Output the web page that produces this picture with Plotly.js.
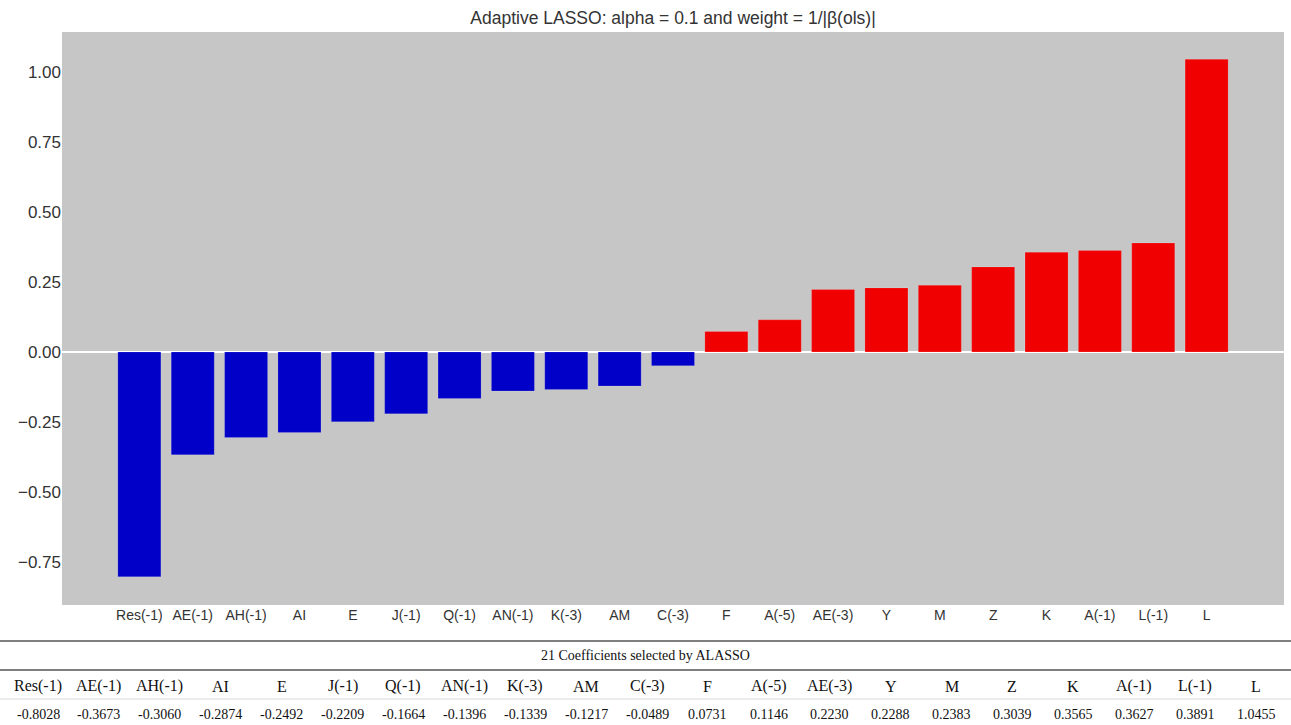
<!DOCTYPE html>
<html>
<head>
<meta charset="utf-8">
<script src="https://cdn.plot.ly/plotly-3.0.1.min.js"></script>
<style>
html,body{margin:0;padding:0;background:#fff;}
#chart{width:1291px;height:725px;}
</style>
</head>
<body>
<div id="chart"></div>
<script>
// ---- data ----
const categories = ["Res(-1)","AE(-1)","AH(-1)","AI","E","J(-1)","Q(-1)","AN(-1)","K(-3)","AM","C(-3)","F","A(-5)","AE(-3)","Y","M","Z","K","A(-1)","L(-1)","L"];
const coefficients = [-0.8028,-0.3673,-0.3060,-0.2874,-0.2492,-0.2209,-0.1664,-0.1396,-0.1339,-0.1217,-0.0489,0.0731,0.1146,0.2230,0.2288,0.2383,0.3039,0.3565,0.3627,0.3891,1.0455];
const yTickVals = [-0.75,-0.5,-0.25,0,0.25,0.5,0.75,1.0];
const yTickText = ["−0.75","−0.50","−0.25","0.00","0.25","0.50","0.75","1.00"];
const chartTitle = "Adaptive LASSO: alpha = 0.1 and weight = 1/|β(ols)|";
const tableHeader = "21 Coefficients selected by ALASSO";

// ---- layout geometry ----
const W = 1291, H = 725;
const M = {l: 62, r: 7, t: 32, b: 120};
const plotH = H - M.t - M.b;
const plotW = W - M.l - M.r;
function py(pixY){ return (H - M.b - pixY) / plotH; }   // pixel y -> paper y
function px(pixX){ return (pixX - M.l) / plotW; }       // pixel x -> paper x

const sansNarrow = "Liberation Sans Narrow, Arial Narrow, Liberation Sans, Arial, sans-serif";
const serif = "Liberation Serif, Times New Roman, serif";
const colors = coefficients.map(v => v < 0 ? "#0000c8" : "#f00000");

const trace = {
  type: "bar",
  x: categories,
  y: coefficients,
  marker: {color: colors, line: {color: "rgba(255,255,255,0.25)", width: 0.6}},
  hoverinfo: "x+y"
};

const shapes = [];
const annotations = [];
// table rules
shapes.push({type:"line", xref:"paper", yref:"paper", x0:px(0), x1:px(W), y0:py(641), y1:py(641), line:{color:"#555", width:1.5}});
shapes.push({type:"line", xref:"paper", yref:"paper", x0:px(0), x1:px(W), y0:py(670), y1:py(670), line:{color:"#555", width:1.5}});
shapes.push({type:"line", xref:"paper", yref:"paper", x0:px(0), x1:px(W), y0:py(699), y1:py(699), line:{color:"#dcdcdc", width:1.2}});

annotations.push({xref:"paper", yref:"paper", x:px(645), y:py(655), text:tableHeader, showarrow:false,
  xanchor:"center", yanchor:"middle", font:{family:serif, size:14, color:"#111"}});

const colStart = 38, colStep = 60.9;
categories.forEach((c, i) => {
  const cx = colStart + colStep * i;
  annotations.push({xref:"paper", yref:"paper", x:px(cx), y:py(686), text:c, showarrow:false,
    xanchor:"center", yanchor:"middle", font:{family:serif, size:16, color:"#111"}});
  annotations.push({xref:"paper", yref:"paper", x:px(cx), y:py(714), text:coefficients[i].toFixed(4), showarrow:false,
    xanchor:"center", yanchor:"middle", font:{family:serif, size:14, color:"#111"}});
});

const layout = {
  width: W, height: H,
  margin: M,
  paper_bgcolor: "#ffffff",
  plot_bgcolor: "#c6c6c6",
  showlegend: false,
  bargap: 0.194,
  title: {
    text: chartTitle,
    x: 0.5, xref: "paper", xanchor: "center",
    y: 1 - 18 / H, yref: "container", yanchor: "middle",
    font: {family: sansNarrow, size: 17.5, color: "#333"}
  },
  xaxis: {
    type: "category",
    range: [-1.45, 21.45],
    showgrid: false, zeroline: false, showline: false,
    ticks: "",
    tickfont: {family: sansNarrow, size: 14, color: "#333"},
    tickangle: 0,
    fixedrange: true
  },
  yaxis: {
    range: [-0.904, 1.143],
    showgrid: false, showline: false,
    zeroline: true, zerolinecolor: "#ffffff", zerolinewidth: 2,
    tickvals: yTickVals, ticktext: yTickText,
    ticks: "",
    tickfont: {family: sansNarrow, size: 17, color: "#333"},
    fixedrange: true
  },
  shapes: shapes,
  annotations: annotations
};

Plotly.newPlot("chart", [trace], layout, {displayModeBar: false, staticPlot: true});
</script>
</body>
</html>
